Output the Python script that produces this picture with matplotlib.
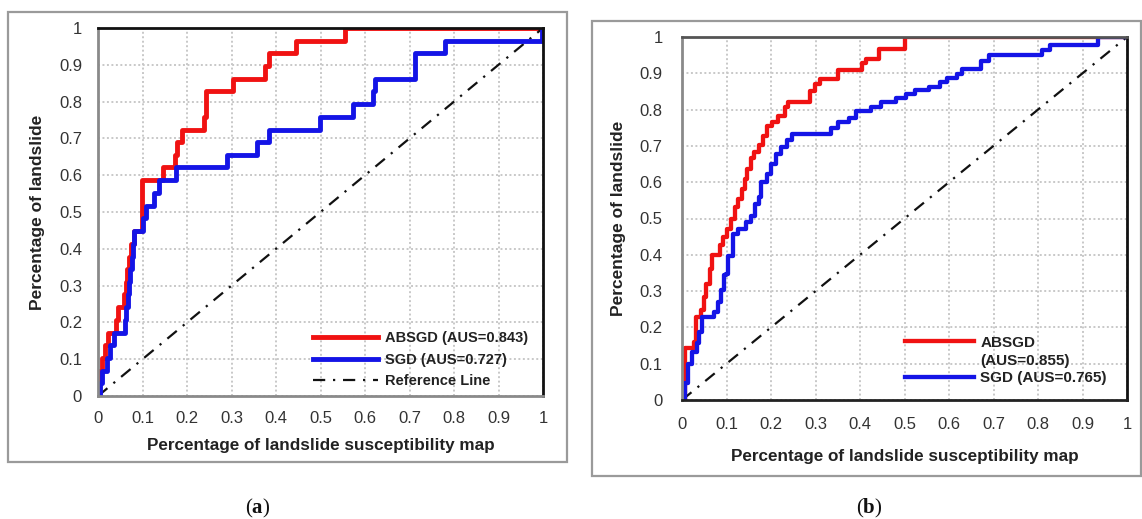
import matplotlib
matplotlib.use("Agg")
import matplotlib.pyplot as plt
from matplotlib.patches import Rectangle
from matplotlib.lines import Line2D

plt.rcParams['font.family'] = ['Liberation Sans', 'DejaVu Sans']
plt.rcParams['mathtext.fontset'] = 'custom'
plt.rcParams['mathtext.rm'] = 'Liberation Serif'
plt.rcParams['mathtext.bf'] = 'Liberation Serif:bold'

# ---------------- data: panel (a) ----------------
a_absgd_x = [0, 0, 0.008, 0.016, 0.022, 0.041, 0.046, 0.058, 0.062, 0.066, 0.070, 0.075, 0.080, 0.098,
             0.147, 0.173, 0.178, 0.188, 0.238, 0.243, 0.304, 0.375, 0.385, 0.445, 0.555, 1.0]
a_absgd_y = [0, 0.069, 0.103, 0.138, 0.172, 0.207, 0.241, 0.276, 0.310, 0.345, 0.379, 0.414, 0.448, 0.586,
             0.621, 0.655, 0.690, 0.724, 0.759, 0.828, 0.862, 0.897, 0.931, 0.966, 1.0, 1.0]
a_sgd_x = [0, 0.005, 0.010, 0.020, 0.028, 0.035, 0.061, 0.064, 0.067, 0.070, 0.073, 0.076, 0.079, 0.082,
           0.102, 0.108, 0.125, 0.138, 0.175, 0.289, 0.357, 0.385, 0.499, 0.572, 0.617, 0.622, 0.712,
           0.779, 0.997, 1.0]
a_sgd_y = [0, 0.034, 0.069, 0.103, 0.138, 0.172, 0.207, 0.241, 0.276, 0.310, 0.345, 0.379, 0.414, 0.448,
           0.483, 0.517, 0.552, 0.586, 0.621, 0.655, 0.690, 0.724, 0.759, 0.793, 0.828, 0.862, 0.931,
           0.966, 1.0, 1.0]

# ---------------- data: panel (b) ----------------
b_absgd_x = [0, 0.007, 0.026, 0.031, 0.042, 0.050, 0.055, 0.062, 0.068, 0.086, 0.092, 0.102, 0.110,
             0.118, 0.126, 0.134, 0.141, 0.146, 0.154, 0.162, 0.173, 0.182, 0.190, 0.203, 0.215, 0.231,
             0.239, 0.287, 0.299, 0.311, 0.351, 0.404, 0.413, 0.442, 0.502, 1.0]
b_absgd_y = [0, 0.142, 0.160, 0.229, 0.247, 0.284, 0.320, 0.362, 0.400, 0.426, 0.449, 0.472, 0.500,
             0.531, 0.554, 0.581, 0.609, 0.636, 0.668, 0.682, 0.703, 0.728, 0.755, 0.765, 0.783, 0.806,
             0.822, 0.852, 0.870, 0.884, 0.909, 0.927, 0.940, 0.968, 1.0, 1.0]
b_sgd_x = [0, 0.006, 0.014, 0.022, 0.034, 0.039, 0.046, 0.072, 0.082, 0.088, 0.094, 0.098, 0.104,
           0.114, 0.126, 0.144, 0.154, 0.164, 0.173, 0.178, 0.190, 0.199, 0.211, 0.223, 0.235, 0.247,
           0.335, 0.351, 0.375, 0.391, 0.424, 0.448, 0.480, 0.504, 0.524, 0.556, 0.580, 0.596, 0.617,
           0.629, 0.673, 0.689, 0.809, 0.826, 0.934, 1.0]
b_sgd_y = [0, 0.046, 0.100, 0.133, 0.156, 0.188, 0.229, 0.243, 0.270, 0.302, 0.343, 0.348, 0.398,
           0.458, 0.472, 0.490, 0.508, 0.540, 0.559, 0.600, 0.623, 0.650, 0.678, 0.696, 0.716, 0.733,
           0.749, 0.765, 0.778, 0.797, 0.808, 0.822, 0.833, 0.842, 0.853, 0.863, 0.875, 0.886, 0.897,
           0.911, 0.934, 0.950, 0.963, 0.978, 1.0, 1.0]

ref_x = [0, 1]
ref_y = [0, 1]

ticks = [0, 0.1, 0.2, 0.3, 0.4, 0.5, 0.6, 0.7, 0.8, 0.9, 1]
tick_labels = ['0', '0.1', '0.2', '0.3', '0.4', '0.5', '0.6', '0.7', '0.8', '0.9', '1']

a_labels = ['ABSGD (AUS=0.843)', 'SGD (AUS=0.727)', 'Reference Line']
b_labels = ['ABSGD', '(AUS=0.855)', 'SGD (AUS=0.765)']
xlabel = 'Percentage of landslide susceptibility map'
ylabel = 'Percentage of landslide'
captions = ['a', 'b']

RED = '#f01212'
BLUE = '#1414e6'
TXT = '#222222'

fig = plt.figure(figsize=(11.42, 5.19), dpi=100)
W, H = 1142, 519

def fx(px):
    return px / W

def fy(py):
    return 1 - py / H

# panel frames
fig.add_artist(Rectangle((fx(8), fy(462)), (567 - 8) / W, (462 - 12) / H, transform=fig.transFigure,
                         fill=False, edgecolor='#9a9a9a', lw=1.6))
fig.add_artist(Rectangle((fx(592), fy(476)), (1141 - 592) / W, (476 - 21) / H, transform=fig.transFigure,
                         fill=False, edgecolor='#9a9a9a', lw=1.6))

ax_a = fig.add_axes([fx(98), fy(396), (543 - 98) / W, (396 - 28) / H])
ax_b = fig.add_axes([fx(682), fy(400), (1127 - 682) / W, (400 - 37) / H])


def style(ax, spine_cols, xpad, ypad):
    ax.set_xlim(0, 1)
    ax.set_ylim(0, 1)
    ax.set_xticks(ticks)
    ax.set_yticks(ticks)
    ax.set_xticklabels(tick_labels)
    ax.set_yticklabels(tick_labels)
    ax.tick_params(axis='x', length=0, pad=xpad, labelsize=12, labelcolor='#333333')
    ax.tick_params(axis='y', length=0, pad=ypad, labelsize=12, labelcolor='#333333')
    ax.grid(True, color='#c8c8c8', linestyle=(0, (1.0, 1.3)), lw=1.4)
    ax.set_axisbelow(True)
    for k, c in spine_cols.items():
        ax.spines[k].set_color(c)
        ax.spines[k].set_linewidth(2.0)
        ax.spines[k].set_zorder(5)


style(ax_a, {'top': '#111111', 'right': '#111111', 'left': '#8a8a8a', 'bottom': '#8a8a8a'}, 11, 11.5)
style(ax_b, {'top': '#555555', 'right': '#111111', 'left': '#8a8a8a', 'bottom': '#222222'}, 12, 14)

# panel (a)
la1, = ax_a.step(a_absgd_x, a_absgd_y, where='post', color=RED, lw=3.5, label=a_labels[0], zorder=3)
la2, = ax_a.step(a_sgd_x, a_sgd_y, where='post', color=BLUE, lw=3.5, label=a_labels[1], zorder=4)
la3, = ax_a.plot(ref_x, ref_y, color='#111111', lw=1.6, linestyle=(0, (5.5, 3.5, 1, 3.5)),
                 label=a_labels[2], zorder=3)
leg_a = ax_a.legend(handles=[la1, la2, la3], loc='upper left', bbox_to_anchor=(0.484, 0.176),
                    frameon=False, borderpad=0, borderaxespad=0, handlelength=4.45,
                    handletextpad=0.46, labelspacing=0.52,
                    prop={'weight': 'bold', 'size': 10.5})
for t in leg_a.get_texts():
    t.set_color(TXT)

ax_a.set_xlabel(xlabel, fontsize=12.3, fontweight='bold', color=TXT)
ax_a.set_ylabel(ylabel, fontsize=12.5, fontweight='bold', color=TXT)
ax_a.xaxis.set_label_coords(0.5, -0.113)
ax_a.yaxis.set_label_coords(-0.120, 0.5)

# panel (b)
lb1, = ax_b.step(b_absgd_x, b_absgd_y, where='post', color=RED, lw=3.1, label=b_labels[0], zorder=3)
lb2, = ax_b.step(b_sgd_x, b_sgd_y, where='post', color=BLUE, lw=3.1, label=b_labels[2], zorder=4)
ax_b.plot(ref_x, ref_y, color='#111111', lw=1.6, linestyle=(0, (5.5, 3.5, 1, 3.5)), zorder=3)
blank = Line2D([], [], color='none', label=b_labels[1])
leg_b = ax_b.legend(handles=[lb1, blank, lb2], loc='upper left', bbox_to_anchor=(0.50, 0.177),
                    frameon=False, borderpad=0, borderaxespad=0, handlelength=4.57,
                    handletextpad=0.4, labelspacing=0.25,
                    prop={'weight': 'bold', 'size': 11})
for t in leg_b.get_texts():
    t.set_color(TXT)

ax_b.set_xlabel(xlabel, fontsize=12.3, fontweight='bold', color=TXT)
ax_b.set_ylabel(ylabel, fontsize=12.5, fontweight='bold', color=TXT)
ax_b.xaxis.set_label_coords(0.5, -0.136)
ax_b.yaxis.set_label_coords(-0.125, 0.5)

# captions
for cx, c in zip([258, 869], captions):
    fig.text(fx(cx), fy(508), '($\\mathbf{' + c + '}$)', fontsize=15, family='Liberation Serif',
             ha='center', va='center', color='#111111')

fig.savefig('out.png', dpi=100)
